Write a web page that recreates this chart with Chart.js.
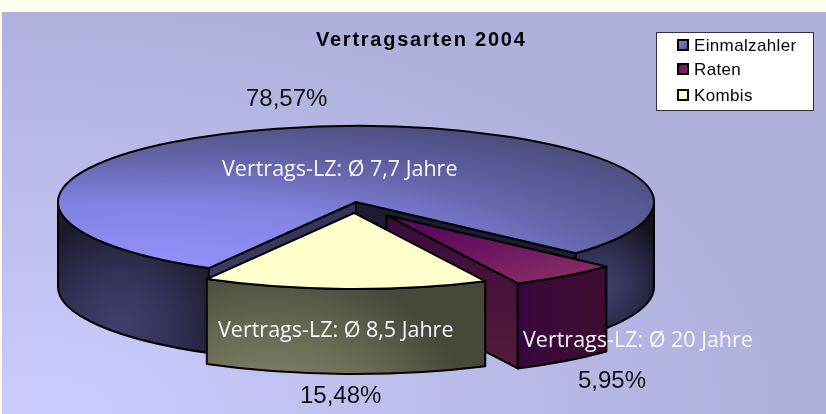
<!DOCTYPE html>
<html><head><meta charset="utf-8">
<style>html,body{margin:0;padding:0;background:#FEFEEE;overflow:hidden}canvas{display:block}</style>
<script src="https://cdn.jsdelivr.net/npm/chart.js@4"></script>
</head><body><canvas id="c" width="826" height="414"></canvas>
<script>
const chartTitle = "Vertragsarten 2004";
const categories = ["Einmalzahler", "Raten", "Kombis"];
const shares = [78.57, 5.95, 15.48];
const notes = ["Vertrags-LZ: Ø 7,7 Jahre", "Vertrags-LZ: Ø 20 Jahre", "Vertrags-LZ: Ø 8,5 Jahre"];

const explode = [[0, 0], [30.5, 52], [-2, 43]];
const K = 0.255, CY = 202, DEPTH = 85, R = 298;
const fmt = v => v.toFixed(2).replace('.', ',') + '%';
const ctx0 = document.getElementById('c').getContext('2d');
const sy = y => CY + (y - CY) / K;
function lin(x0, y0, x1, y1, stops) {
  const g = ctx0.createLinearGradient(x0, y0, x1, y1);
  stops.forEach(s => g.addColorStop(s[0], s[1]));
  return g;
}
function rad(x, y, r0, r1, stops) {
  const g = ctx0.createRadialGradient(x, y, r0, x, y, r1);
  stops.forEach(s => g.addColorStop(s[0], s[1]));
  return g;
}
const topFaces = [
  rad(150, sy(275), 0, 680, [[0, '#9494ff'], [0.42, '#8282e2'], [0.68, '#6464a8'], [1, '#484878']]),
  lin(400, sy(220), 600, sy(270), [[0, '#5c0a5e'], [1, '#943468']]),
  '#FFFFCC'
];
const wallLeft = rad(120, 325, 0, 110, [[0, '#3f3f6a'], [0.45, '#33335a'], [1, '#1a1a2c']]);
const wallRight = rad(600, 285, 0, 75, [[0, '#40406c'], [0.4, '#33335a'], [1, '#13131e']]);
const outerWalls = [
  null,
  lin(518, 0, 606, 0, [[0, '#33063f'], [0.2, '#3a093a'], [1, '#3c0c30']]),
  rad(270, 470, 90, 215, [[0, '#7e7e68'], [0.35, '#6c6c56'], [1, '#47473a']])
];
const cutWalls = [
  [lin(356, 0, 209, 0, [[0, '#33335a'], [1, '#3a3a62']]), '#1c1c32'],
  [null, lin(0, 216, 0, 370, [[0, '#3a0b3c'], [1, '#551c3a']])],
  [null, null]
];

function face(ctx, pts, fill) {
  ctx.beginPath();
  pts.forEach((p, i) => i ? ctx.lineTo(p[0], p[1]) : ctx.moveTo(p[0], p[1]));
  ctx.closePath();
  ctx.fillStyle = fill; ctx.fill(); ctx.stroke();
}
function outerSegment(ctx, x, y, r, a0, a1, fill) {
  ctx.beginPath();
  ctx.ellipse(x, y, r, r * K, 0, a0, a1);
  ctx.ellipse(x, y + DEPTH, r, r * K, 0, a1, a0, true);
  ctx.closePath();
  ctx.fillStyle = fill; ctx.fill(); ctx.stroke();
}
function paintArc(arc, i, ctx, orig, area) {
  const x = arc.x + explode[i][0];
  const y = CY + (arc.y - CY + explode[i][1]) * K;
  const r = arc.outerRadius, a0 = arc.startAngle, a1 = arc.endAngle;
  ctx.save();
  ctx.setTransform(1, 0, 0, 1, 0, 0);
  ctx.strokeStyle = '#000'; ctx.lineWidth = 2; ctx.lineJoin = 'round';
  const ex = a => [x + r * Math.cos(a), y + r * K * Math.sin(a)];
  const wall = a => { const e = ex(a); return [[x, y], e, [e[0], e[1] + DEPTH], [x, y + DEPTH]]; };
  if (Math.cos(a0) < 0 && cutWalls[i][0]) face(ctx, wall(a0), cutWalls[i][0]);
  if (Math.cos(a1) > 0 && cutWalls[i][1]) face(ctx, wall(a1), cutWalls[i][1]);
  const TAU = Math.PI * 2;
  for (let k = -1; k <= 2; k++) {
    const lo = Math.max(a0, k * TAU), hi = Math.min(a1, k * TAU + Math.PI);
    if (hi > lo) {
      const fill = outerWalls[i] || (Math.cos((lo + hi) / 2) < 0 ? wallLeft : wallRight);
      outerSegment(ctx, x, y, r, lo, hi, fill);
    }
  }
  ctx.restore();

  ctx.save();
  ctx.setTransform(1, 0, 0, K, 0, CY * (1 - K));
  ctx.translate(explode[i][0], explode[i][1]);
  orig.call(arc, ctx, area);
  ctx.restore();

  ctx.save();
  ctx.setTransform(1, 0, 0, 1, 0, 0);
  ctx.strokeStyle = '#000'; ctx.lineWidth = 2; ctx.lineJoin = 'round';
  ctx.beginPath();
  ctx.moveTo(x, y);
  ctx.ellipse(x, y, r, r * K, 0, a0, a1);
  ctx.closePath();
  ctx.stroke();
  ctx.restore();
}

const stage = {
  id: 'stage',
  beforeDraw(chart) {
    const c = chart.ctx;
    c.save();
    c.fillStyle = '#FEFEEE'; c.fillRect(0, 0, 826, 414);
    c.beginPath(); c.rect(2, 12, 824, 402); c.clip();
    c.translate(40, 414); c.scale(1, 0.55);
    const g = c.createRadialGradient(0, 0, 0, 0, 0, 760);
    [[0, '#CCCCFF'], [0.5, '#BDBDEC'], [0.95, '#B1B1DE'], [1, '#B0B0DD']].forEach(s => g.addColorStop(s[0], s[1]));
    c.fillStyle = g; c.fillRect(-60, -800, 900, 830);
    c.restore();
  },
  afterDatasetsUpdate(chart) {
    chart.getDatasetMeta(0).data.forEach((arc, i) => {
      const orig = Object.getPrototypeOf(arc).draw;
      arc.draw = function (ctx, area) { paintArc(arc, i, ctx, orig, area); };
    });
  },
  afterDatasetsDraw(chart) {
    const c = chart.ctx;
    c.save();
    c.textBaseline = 'alphabetic'; c.textAlign = 'left';
    c.fillStyle = '#000'; c.font = 'bold 20px "Liberation Sans"'; c.letterSpacing = '1.75px';
    c.fillText(chartTitle, 316, 46);
    c.letterSpacing = '0px'; c.font = '24px "Liberation Sans"'; c.fillStyle = '#111';
    c.fillText(fmt(shares[0]), 246, 106);
    c.fillText(fmt(shares[1]), 578, 388);
    c.fillText(fmt(shares[2]), 300, 403);
    c.fillStyle = '#F6F6FF'; c.font = '21.5px "Open Sans"';
    c.fillText(notes[0], 222, 176);
    c.fillText(notes[1], 523, 347);
    c.fillText(notes[2], 218, 337);
    c.fillStyle = '#fff'; c.fillRect(656.5, 32.5, 157, 78);
    c.strokeStyle = '#333'; c.lineWidth = 1; c.strokeRect(656.5, 32.5, 157, 78);
    const sw = [lin(678, 40, 689, 51, [[0, '#8888dd'], [1, '#4a4a80']]), lin(678, 64, 689, 75, [[0, '#5c0a5e'], [1, '#943468']]), '#FFFFCC'];
    const ys = [39, 63, 89], base = [51, 75, 101];
    c.font = '17px "Liberation Sans"'; c.letterSpacing = '0.35px';
    categories.forEach((n, i) => {
      c.fillStyle = sw[i]; c.fillRect(678, ys[i] + 1, 10, 10);
      c.strokeStyle = '#000'; c.lineWidth = 2; c.strokeRect(678, ys[i] + 1, 10, 10);
      c.fillStyle = '#000'; c.fillText(n, 694, base[i]);
    });
    c.restore();
  }
};

new Chart(ctx0, {
  type: 'pie',
  data: { labels: categories, datasets: [{ data: shares, backgroundColor: topFaces, borderWidth: 0, offset: 0 }] },
  options: {
    responsive: false, animation: false, rotation: 209.6, radius: R,
    layout: { padding: { left: 0, top: 0, right: 114, bottom: 10 } },
    plugins: { legend: { display: false }, title: { display: false }, tooltip: { enabled: false } }
  },
  plugins: [stage]
});
</script></body></html>
